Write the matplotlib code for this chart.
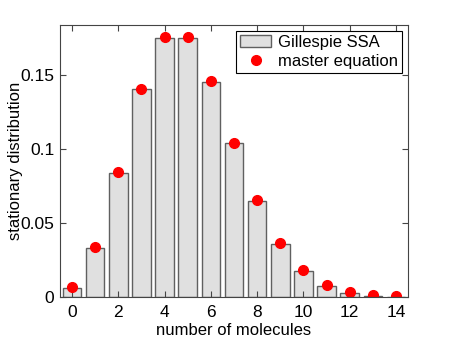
import numpy as np
import matplotlib
matplotlib.use("Agg")
import matplotlib.pyplot as plt

plt.rcParams['font.family'] = ['Liberation Sans', 'DejaVu Sans']

molecules = np.arange(15)
# histogram from Gillespie SSA runs
ssa_freq = [0.0062, 0.0329, 0.0836, 0.1403, 0.1752, 0.1748, 0.1455, 0.1038,
            0.0649, 0.0356, 0.0176, 0.0074, 0.0027, 0.0008, 0.0003]
# master equation solution
me_prob = [0.0067, 0.0337, 0.0842, 0.1404, 0.1755, 0.1755, 0.1462, 0.1044,
           0.0653, 0.0363, 0.0181, 0.0082, 0.0034, 0.0013, 0.0005]
xticks = [0, 2, 4, 6, 8, 10, 12, 14]
yticks = [0, 0.05, 0.1, 0.15]
ytick_labels = ['0', '0.05', '0.1', '0.15']

fig = plt.figure(figsize=(4.51, 3.39), dpi=100)
ax = fig.add_axes([60/451, 1-297/339, 348/451, 272/339])

bars = ax.bar(molecules, ssa_freq, width=0.8, color='#e0e0e0', edgecolor='#606060',
              linewidth=1.0, label='Gillespie SSA')
dots, = ax.plot(molecules, me_prob, 'o', color='red', markersize=7, label='master equation')

ax.set_xlim(-0.52, 14.52)
ax.set_ylim(0, 0.1838)
ax.set_xticks(xticks)
ax.set_yticks(yticks)
ax.set_yticklabels(ytick_labels)
ax.tick_params(direction='in', top=True, right=True, labelsize=12.5, length=4,
               color='#444444')
ax.tick_params(axis='x', pad=6)
ax.tick_params(axis='y', pad=4)
for s in ax.spines.values():
    s.set_color('#444444')
    s.set_linewidth(0.8)

ax.set_xlabel('number of molecules', fontsize=12, labelpad=2)
ax.set_ylabel('stationary distribution', fontsize=12, labelpad=-2)

leg = ax.legend([bars, dots], ['Gillespie SSA', 'master equation'],
                loc='upper right', fontsize=12, fancybox=False, framealpha=1,
                edgecolor='black', borderaxespad=0.35, handlelength=1.9,
                handletextpad=0.4, borderpad=0.25, labelspacing=0.25)
leg.get_frame().set_linewidth(0.8)

fig.savefig('out.png', dpi=100)
